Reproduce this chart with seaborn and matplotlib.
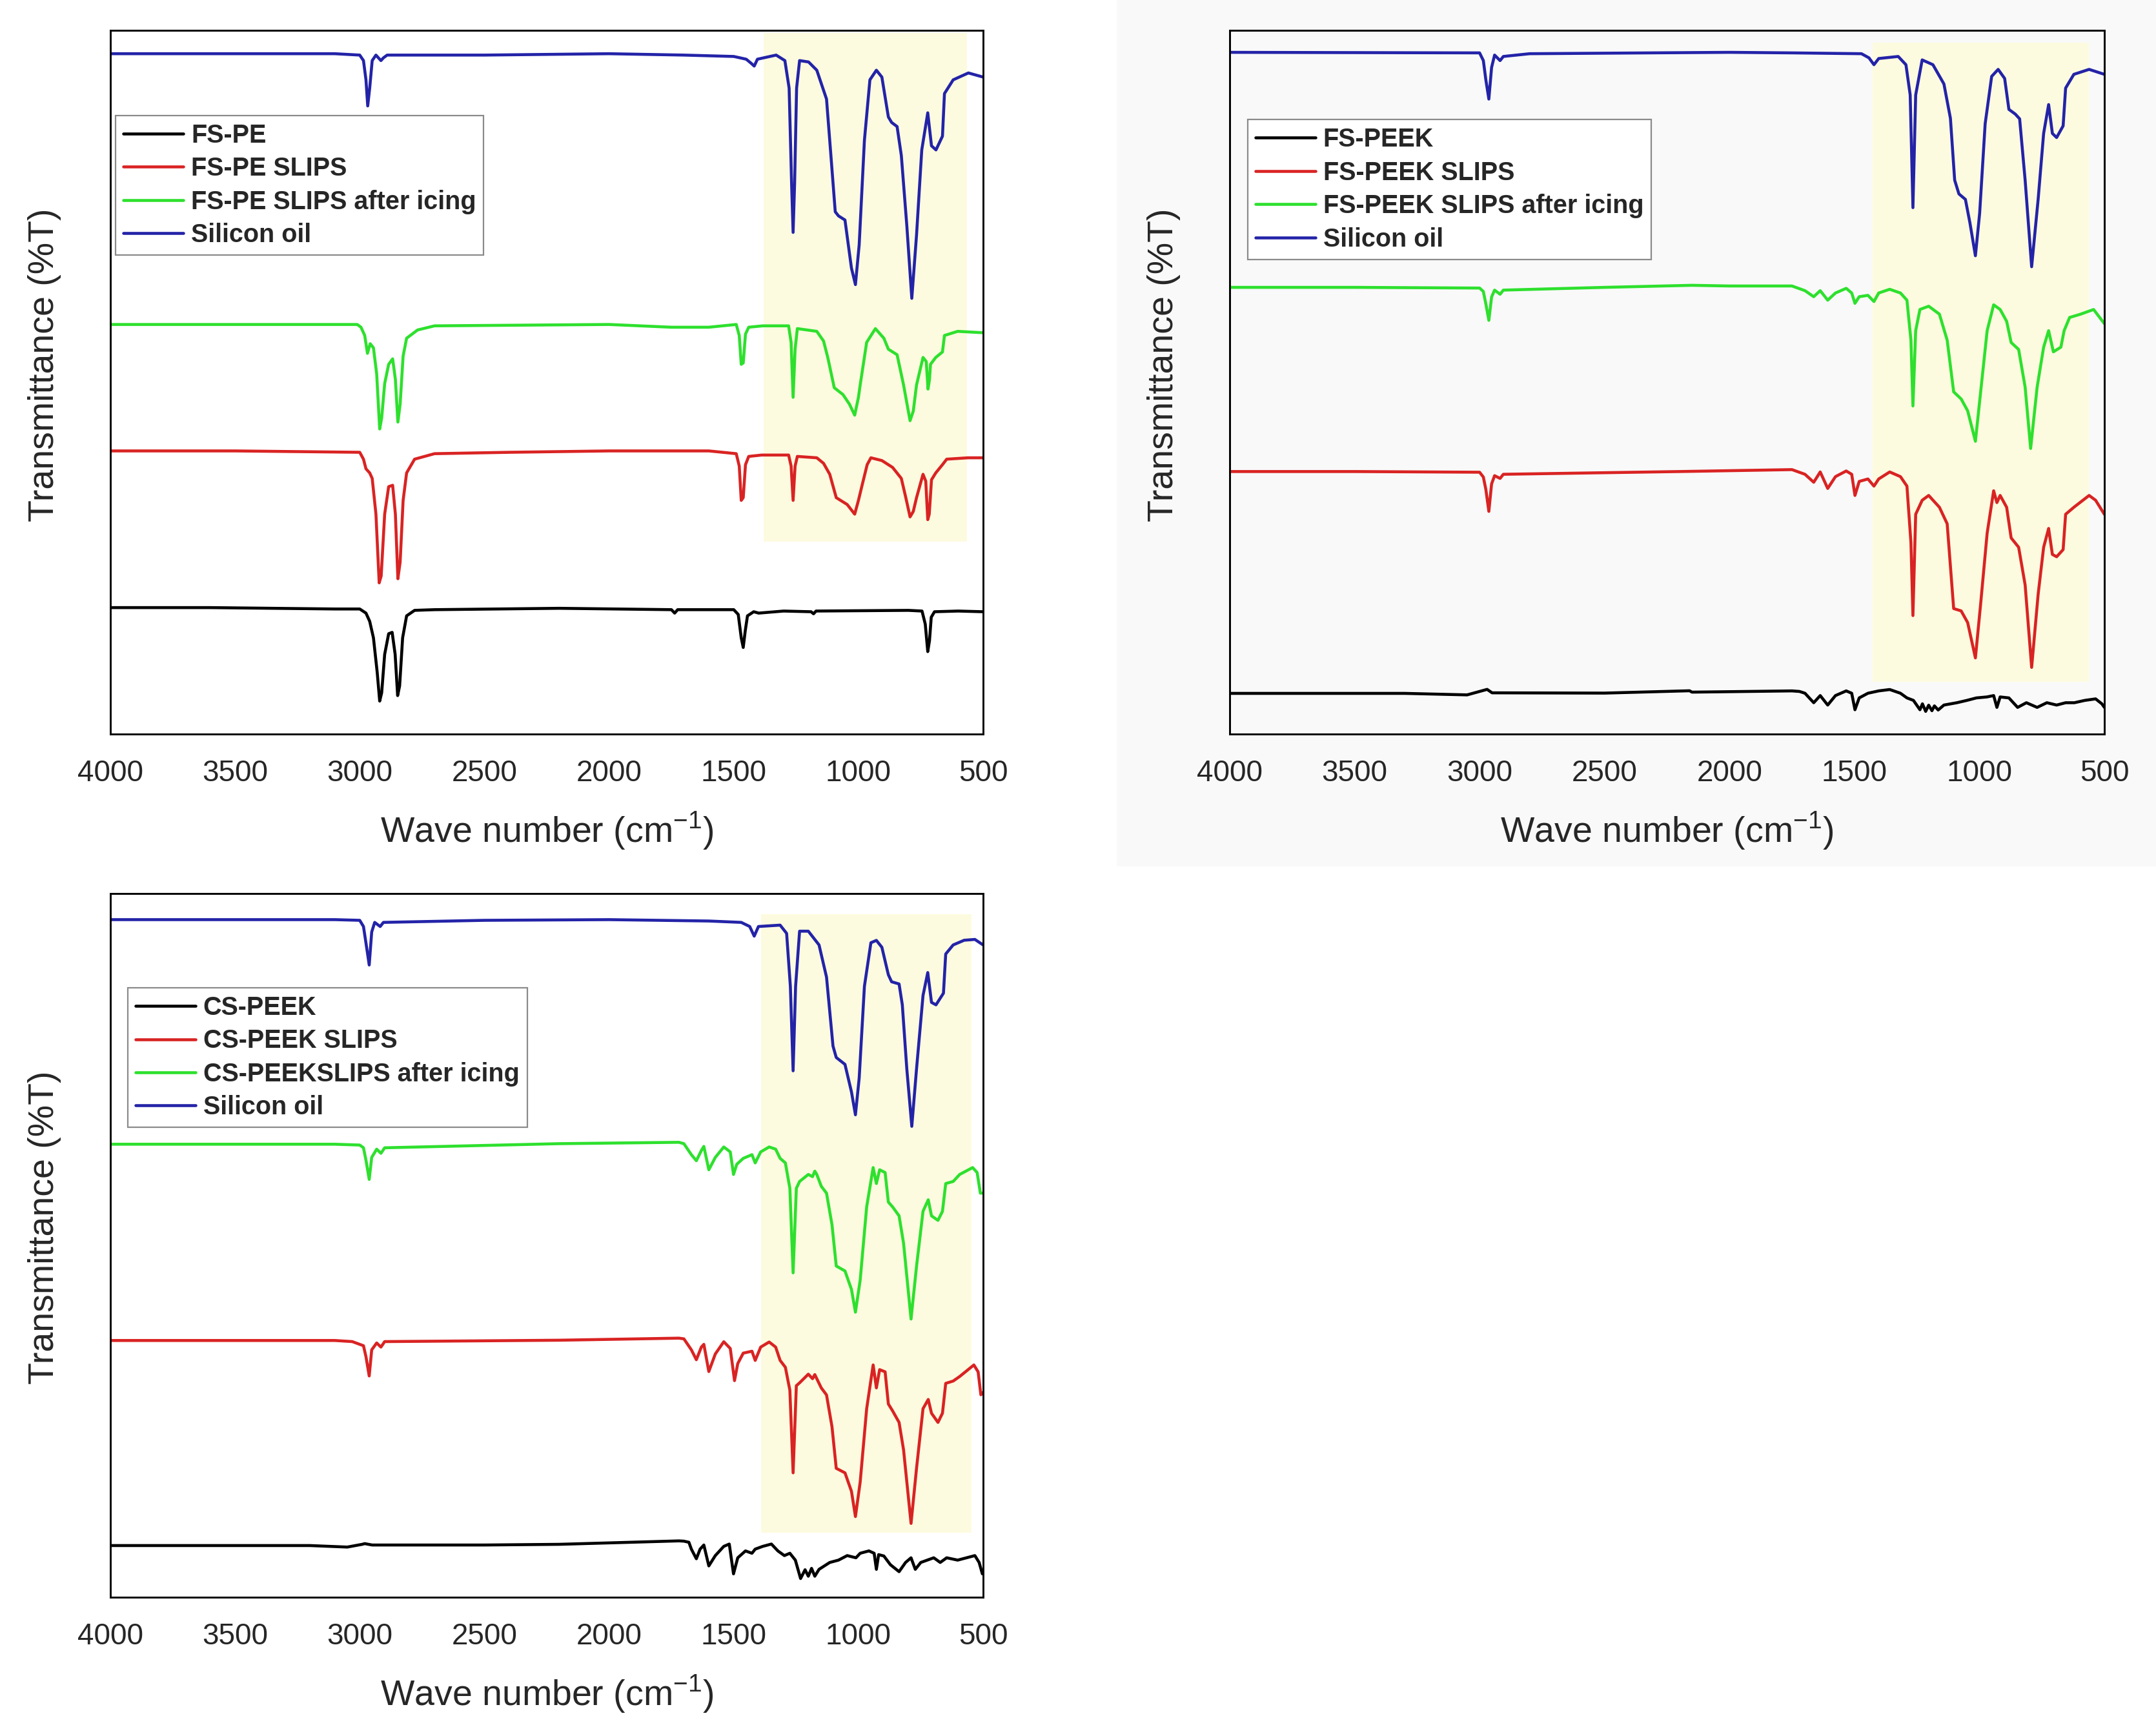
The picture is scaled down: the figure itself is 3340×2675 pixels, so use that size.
import pandas as pd
import matplotlib
matplotlib.use("Agg")
import matplotlib.pyplot as plt
from matplotlib.patches import Rectangle
from matplotlib.font_manager import FontProperties
import seaborn as sns

# --- Data (wave number, transmittance in arbitrary stacked units) ---
PE_BLACK = [(4000, 92), (3600, 92), (3350, 91.5), (3100, 91), (3000, 91), (2975, 88), (2960, 82),
            (2945, 70), (2930, 45), (2920, 24), (2912, 30), (2900, 58), (2884, 73), (2870, 74),
            (2858, 58), (2848, 28), (2840, 35), (2828, 70), (2812, 86), (2780, 90), (2700, 90.5),
            (2200, 91.5), (1750, 90.5), (1737, 88), (1725, 90.5), (1500, 90.5), (1482, 87),
            (1470, 70), (1462, 63), (1454, 75), (1445, 86), (1420, 89), (1400, 88), (1300, 89.5),
            (1190, 89), (1180, 87.5), (1170, 89.5), (800, 90), (745, 89.5), (732, 80), (722, 60),
            (715, 68), (708, 85), (695, 89), (600, 89.5), (500, 89)]
PE_RED = [(4000, 206), (3500, 206), (3000, 205), (2985, 200), (2975, 193), (2960, 190), (2950, 186),
          (2935, 160), (2922, 110), (2914, 115), (2900, 160), (2884, 180), (2868, 181), (2857, 160),
          (2847, 113), (2838, 125), (2826, 170), (2812, 190), (2780, 200), (2700, 204), (2400, 205),
          (2000, 206), (1600, 206), (1490, 204), (1478, 195), (1470, 170), (1462, 172), (1453, 196),
          (1440, 202), (1388, 203), (1280, 203), (1270, 195), (1262, 170), (1254, 195), (1245, 202),
          (1167, 201), (1140, 197), (1115, 189), (1089, 172), (1045, 167), (1015, 160), (1000, 170),
          (984, 182), (965, 196), (950, 201), (906, 199), (863, 194), (828, 186), (810, 172),
          (793, 158), (780, 162), (767, 172), (741, 189), (730, 184), (722, 156), (716, 160),
          (707, 185), (690, 190), (663, 196), (646, 200), (560, 201), (500, 201)]
PE_GREEN = [(4000, 298), (3500, 298), (3010, 298), (2995, 296), (2980, 290), (2969, 277), (2958, 284),
            (2945, 281), (2932, 262), (2920, 222), (2912, 230), (2900, 255), (2884, 269), (2868, 273),
            (2857, 258), (2847, 227), (2838, 240), (2826, 275), (2812, 288), (2768, 294), (2700, 297),
            (2000, 298), (1750, 296), (1600, 296), (1490, 298), (1478, 290), (1470, 269), (1462, 270),
            (1453, 291), (1440, 296), (1384, 297), (1280, 297), (1270, 285), (1262, 245), (1254, 280),
            (1245, 295), (1167, 293), (1140, 286), (1123, 274), (1097, 252), (1062, 247), (1036, 240),
            (1015, 232), (1000, 245), (993, 254), (967, 285), (932, 295), (898, 288), (880, 280),
            (845, 276), (819, 254), (793, 228), (780, 235), (767, 254), (741, 274), (728, 271),
            (721, 251), (715, 258), (711, 269), (690, 274), (663, 278), (655, 290), (602, 293),
            (500, 292)]
PE_BLUE = [(4000, 495), (3500, 495), (3100, 495), (3000, 494), (2985, 490), (2975, 476), (2968, 457),
           (2960, 470), (2950, 490), (2935, 494), (2915, 490), (2905, 492), (2890, 494), (2500, 494),
           (2000, 495), (1700, 494), (1500, 493), (1450, 491), (1430, 488), (1418, 486), (1405, 491),
           (1330, 494), (1295, 490), (1278, 470), (1268, 400), (1262, 365), (1256, 400), (1248, 470),
           (1236, 490), (1200, 489), (1167, 483), (1128, 462), (1110, 420), (1093, 380), (1080, 377),
           (1054, 374), (1028, 339), (1012, 327), (997, 356), (976, 432), (954, 476), (928, 483),
           (906, 478), (880, 449), (867, 445), (845, 442), (828, 421), (806, 370), (786, 317),
           (767, 363), (746, 425), (722, 452), (707, 428), (689, 425), (663, 435), (655, 466),
           (620, 476), (559, 481), (500, 478)]

PEEK_BLACK = [(4000, 29.6), (3300, 29.6), (3050, 28.5), (2990, 31.5), (2970, 32.5), (2950, 30),
              (2500, 29.8), (2160, 31.5), (2150, 30.5), (1750, 31.4), (1720, 31), (1698, 29.7),
              (1663, 22.8), (1637, 28), (1607, 21.1), (1576, 28), (1533, 31.4), (1511, 29.7),
              (1498, 17.7), (1481, 26.3), (1446, 29.7), (1403, 31.4), (1359, 32.4), (1316, 29.7),
              (1290, 26.3), (1264, 24.5), (1238, 17.7), (1228, 22), (1215, 16.5), (1203, 21),
              (1190, 17), (1180, 20.5), (1165, 17.5), (1142, 21.1), (1090, 22.8), (1050, 24.5),
              (1012, 26.3), (970, 27), (943, 28), (930, 19.4), (917, 27), (882, 26.3), (847, 19.4),
              (812, 22.8), (769, 19.4), (730, 22.8), (691, 21.1), (655, 22.8), (620, 22.8),
              (578, 24.5), (535, 25.6), (510, 22), (500, 19.4)]
PEEK_RED = [(4000, 191), (3500, 191), (3000, 190.5), (2985, 187), (2975, 178), (2963, 162), (2952, 182),
            (2940, 188), (2918, 186), (2905, 189), (2200, 191), (1750, 192.4), (1698, 189),
            (1663, 183.2), (1637, 190.7), (1607, 178.7), (1576, 187.3), (1533, 191.4), (1511, 189),
            (1498, 173.6), (1481, 183.8), (1446, 185.6), (1422, 180.4), (1403, 185.6), (1359, 190.7),
            (1316, 187.3), (1290, 180.4), (1274, 139.3), (1266, 86.2), (1255, 159.9), (1229, 170.1),
            (1203, 173.6), (1160, 165), (1129, 153), (1103, 91.3), (1073, 89.6), (1047, 81.1),
            (1016, 55.4), (995, 94.8), (969, 146.2), (943, 177), (930, 168.4), (917, 173.6),
            (891, 165), (873, 142.7), (843, 135.9), (817, 108.5), (791, 48.5), (765, 101.6),
            (743, 135.9), (723, 149.6), (708, 130.7), (691, 129), (665, 134.2), (655, 159.9),
            (622, 165), (561, 173.6), (535, 170.1), (500, 159.9)]
PEEK_GREEN = [(4000, 325), (3500, 325), (3000, 324.5), (2985, 322), (2975, 313), (2963, 301),
              (2952, 318), (2940, 323), (2918, 320), (2905, 323), (2500, 325), (2150, 326.5),
              (2000, 326), (1750, 326), (1698, 322.6), (1663, 318.2), (1637, 322.6), (1607, 315.7),
              (1576, 320.9), (1533, 324.3), (1511, 320.9), (1498, 313.4), (1481, 318.2), (1446, 319.2),
              (1422, 314.7), (1403, 320.9), (1359, 323.6), (1316, 320.9), (1290, 315.7), (1274, 286.6),
              (1266, 238.7), (1255, 293.5), (1238, 308.9), (1203, 311.3), (1160, 305.5), (1129, 286.6),
              (1103, 249), (1073, 243.8), (1047, 235.2), (1016, 213), (995, 249), (969, 293.5),
              (943, 312.3), (917, 308.9), (891, 300.3), (873, 284.9), (843, 279.8), (817, 252.4),
              (795, 207.8), (769, 252.4), (743, 281.5), (723, 293.5), (704, 278.1), (674, 281.5),
              (661, 293.5), (639, 303.1), (595, 305.5), (543, 308.9), (500, 298.6)]
PEEK_BLUE = [(4000, 496), (3000, 495.6), (2985, 490), (2975, 476), (2963, 462), (2952, 485), (2940, 494),
             (2918, 490), (2905, 493), (2800, 495), (2000, 496), (1750, 495.6), (1472, 495), (1442, 492),
             (1422, 487), (1403, 491.5), (1325, 493), (1294, 487), (1277, 465), (1266, 383), (1255, 465),
             (1229, 490.5), (1186, 487), (1142, 473), (1116, 448), (1099, 403), (1082, 393), (1056, 389),
             (1038, 372), (1016, 348), (999, 379), (977, 444), (951, 478.5), (925, 483.6), (899, 477),
             (882, 454.5), (856, 451), (839, 447.6), (817, 403), (791, 340), (765, 389), (743, 437),
             (723, 458), (708, 437), (691, 434), (665, 442.5), (655, 470), (622, 480), (561, 483.6),
             (500, 480)]

CS_BLACK = [(4000, 37.6), (3200, 37.6), (3050, 36.5), (2990, 38.5), (2980, 39), (2950, 38), (2500, 38),
            (2200, 38.5), (1720, 41), (1700, 40.8), (1680, 40), (1670, 35), (1650, 28), (1635, 35),
            (1620, 38), (1600, 22.8), (1574, 30.3), (1540, 37), (1518, 38.7), (1501, 17), (1484, 28.7),
            (1453, 33.7), (1427, 32), (1414, 35), (1384, 37), (1349, 38.7), (1323, 33.7), (1297, 30.3),
            (1275, 32), (1253, 27), (1232, 13.6), (1214, 20), (1201, 15.3), (1188, 21), (1175, 15.3),
            (1158, 20.3), (1115, 25.3), (1080, 27), (1045, 30.3), (1010, 28.7), (993, 32), (958, 33.7),
            (937, 32), (928, 20.3), (919, 31), (898, 30), (872, 23.7), (837, 18.6), (811, 25.3),
            (789, 28.7), (772, 20.3), (750, 25.3), (698, 28.7), (672, 25.3), (646, 28.7), (602, 27),
            (533, 30.3), (516, 25.3), (503, 17), (500, 17)]
CS_RED = [(4000, 186.8), (3100, 186.8), (3030, 186), (2985, 183), (2975, 175), (2962, 161), (2952, 180),
          (2932, 185), (2915, 182), (2900, 186), (2200, 187), (1720, 188.5), (1700, 188), (1670, 180),
          (1650, 172.8), (1630, 182), (1620, 184), (1600, 164.2), (1574, 177), (1540, 185.9),
          (1514, 181), (1497, 157.6), (1484, 170), (1462, 177.6), (1427, 179), (1414, 172.3),
          (1392, 182), (1358, 185.7), (1332, 182), (1314, 172.3), (1293, 167.3), (1275, 150.6),
          (1262, 90.5), (1249, 153.9), (1236, 156), (1201, 162.3), (1184, 159), (1175, 162),
          (1167, 159), (1149, 152.3), (1128, 147.2), (1106, 124), (1089, 93.8), (1054, 90.5),
          (1028, 77.1), (1012, 58.7), (993, 83.8), (967, 137.2), (941, 169), (928, 152.3),
          (915, 165.6), (893, 164), (880, 140.6), (863, 135.6), (837, 127.2), (819, 107.2),
          (789, 53.7), (767, 93.8), (741, 137.2), (720, 143.9), (707, 133.9), (681, 127.2),
          (663, 133.9), (650, 155.6), (620, 157.3), (594, 160.6), (537, 169), (520, 164),
          (509, 147.3), (500, 149)]
CS_GREEN = [(4000, 329.6), (3100, 329.6), (3000, 329), (2985, 327), (2975, 318), (2962, 304), (2952, 320),
            (2932, 326), (2915, 323), (2900, 327), (2200, 330), (1720, 331), (1700, 330), (1670, 322),
            (1650, 317.6), (1630, 325), (1620, 328), (1600, 311), (1574, 320), (1540, 327.6),
            (1514, 324), (1501, 307.6), (1488, 315), (1462, 319.3), (1427, 322), (1414, 316),
            (1392, 324), (1358, 327.6), (1332, 326), (1314, 319.3), (1293, 316), (1275, 297.5),
            (1262, 236), (1249, 297.5), (1236, 302.5), (1201, 307.6), (1184, 306), (1175, 310),
            (1167, 307.6), (1149, 299), (1128, 294), (1106, 271), (1089, 241), (1054, 237.4),
            (1028, 224), (1012, 207.4), (993, 230.7), (967, 284), (941, 312.6), (928, 301),
            (915, 311), (893, 309), (880, 287.5), (863, 284), (837, 277.5), (819, 257.5),
            (789, 202.4), (767, 240.8), (741, 280.8), (720, 289.2), (707, 277.5), (681, 274.2),
            (663, 280.8), (650, 301), (620, 302.5), (594, 307.6), (542, 312.6), (524, 309),
            (511, 294), (500, 294)]
CS_BLUE = [(4000, 493), (3100, 493), (3000, 492.5), (2985, 488), (2975, 476), (2962, 460), (2952, 484),
           (2940, 491), (2918, 488), (2905, 491), (2500, 492.5), (2000, 493), (1600, 492), (1470, 491),
           (1436, 488), (1418, 481), (1401, 488), (1314, 489), (1288, 483), (1273, 444.5), (1262, 383),
           (1252, 444.5), (1236, 484.6), (1201, 484.6), (1158, 474.6), (1128, 451.2), (1102, 401),
           (1089, 392.7), (1054, 387.7), (1028, 367.7), (1012, 351), (997, 377.7), (976, 444.5),
           (950, 476.2), (928, 477.9), (906, 472.9), (880, 452.9), (867, 447.8), (837, 446.2),
           (824, 431), (806, 384.4), (786, 342.6), (767, 384.4), (741, 437.8), (722, 454.5),
           (707, 432.8), (689, 431), (659, 439.5), (650, 468), (620, 474.6), (576, 478),
           (533, 478.6), (500, 474.6)]

# highlighted Si-O / Si-CH3 region: (wn_high, wn_low, T_low, T_high)
PE_SPAN = (1380, 565, 140, 510)
PEEK_SPAN = (1428, 562, 38, 503)
CS_SPAN = (1390, 546, 47, 497)

PE_LABELS = ['FS-PE', 'FS-PE SLIPS', 'FS-PE SLIPS after icing', 'Silicon oil']
PEEK_LABELS = ['FS-PEEK', 'FS-PEEK SLIPS', 'FS-PEEK SLIPS after icing', 'Silicon oil']
CS_LABELS = ['CS-PEEK', 'CS-PEEK SLIPS', 'CS-PEEKSLIPS after icing', 'Silicon oil']

COLORS = ['#000000', '#d92323', '#2ee02e', '#2323a8']
HIGHLIGHT = '#fdfbdf'

# --- Layout (figure fractions) ---
W, H = 3341, 2675
PANELS = [
    dict(rect=[171 / W, 1 - 1137 / H, 1352 / W, 1090 / H], labels=PE_LABELS,
         series=[PE_BLACK, PE_RED, PE_GREEN, PE_BLUE], span=PE_SPAN, anchor=(0.006, 0.879)),
    dict(rect=[1905 / W, 1 - 1137 / H, 1355 / W, 1090 / H], labels=PEEK_LABELS,
         series=[PEEK_BLACK, PEEK_RED, PEEK_GREEN, PEEK_BLUE], span=PEEK_SPAN, anchor=(0.0207, 0.873)),
    dict(rect=[171 / W, 1 - 2474 / H, 1352 / W, 1090 / H], labels=CS_LABELS,
         series=[CS_BLACK, CS_RED, CS_GREEN, CS_BLUE], span=CS_SPAN, anchor=(0.02, 0.866)),
]


def to_frame(labels, series):
    rows = []
    for label, pts in zip(labels, series):
        for wn, t in pts:
            rows.append({'wn': wn, 'T': t, 'sample': label})
    return pd.DataFrame(rows)


def draw_panel(fig, cfg):
    ax = fig.add_axes(cfg['rect'])
    ax.set_facecolor('none')
    df = to_frame(cfg['labels'], cfg['series'])
    palette = dict(zip(cfg['labels'], COLORS))

    hi, lo, tlo, thi = cfg['span']
    ax.add_patch(Rectangle((lo, tlo), hi - lo, thi - tlo, facecolor=HIGHLIGHT,
                           edgecolor='none', zorder=0.5))

    sns.lineplot(data=df, x='wn', y='T', hue='sample', hue_order=cfg['labels'],
                 palette=palette, estimator=None, sort=False, linewidth=3.3, ax=ax)

    ax.set_xlim(4000, 500)
    ax.set_ylim(0, 512)
    ax.set_xticks(range(4000, 499, -500))
    ax.set_xticks(range(3750, 500, -500), minor=True)
    ax.set_yticks([])
    ax.tick_params(axis='x', which='major', direction='out', length=15.8, width=2,
                   labelsize=33, pad=12, color='#000000')
    ax.tick_params(axis='x', which='minor', direction='out', length=7.9, width=2,
                   color='#000000')
    for sp in ax.spines.values():
        sp.set_visible(True)
        sp.set_linewidth(2.1)
        sp.set_color('#000000')

    ax.set_xlabel('Wave number (cm$^{\\mathregular{-1}}$)', fontsize=40, labelpad=25)
    ax.set_ylabel('Transmittance (%T)', fontsize=40)
    ax.yaxis.set_label_coords(-0.056, 0.525)

    handles, labels = ax.get_legend_handles_labels()
    for h in handles:
        h.set_linewidth(3.3)
    leg = ax.legend(handles, labels, loc='upper left', bbox_to_anchor=cfg['anchor'],
                    prop=FontProperties(family='Liberation Sans', weight='bold', size=28.5),
                    frameon=True, fancybox=False, framealpha=1, edgecolor='#8a8a8a',
                    handlelength=2.35, handletextpad=0.3, labelspacing=0.34,
                    borderpad=0.3, borderaxespad=0)
    leg.get_frame().set_linewidth(1.6)
    return ax


def main():
    sns.set_style('white')
    plt.rcParams['font.family'] = ['Liberation Sans', 'DejaVu Sans']
    plt.rcParams['mathtext.fontset'] = 'custom'
    plt.rcParams['mathtext.rm'] = 'Liberation Sans'

    fig = plt.figure(figsize=(W / 100, H / 100), dpi=100)
    fig.patch.set_facecolor('white')
    # faint grey backdrop behind the upper-right panel
    fig.patches.append(Rectangle((1730 / W, 1 - 1342 / H), 1 - 1730 / W, 1342 / H,
                                 transform=fig.transFigure, facecolor='#f9f9f9',
                                 edgecolor='none', zorder=-5))

    for cfg in PANELS:
        draw_panel(fig, cfg)

    fig.savefig('out.png', dpi=100, facecolor='white')


if __name__ == '__main__':
    main()
